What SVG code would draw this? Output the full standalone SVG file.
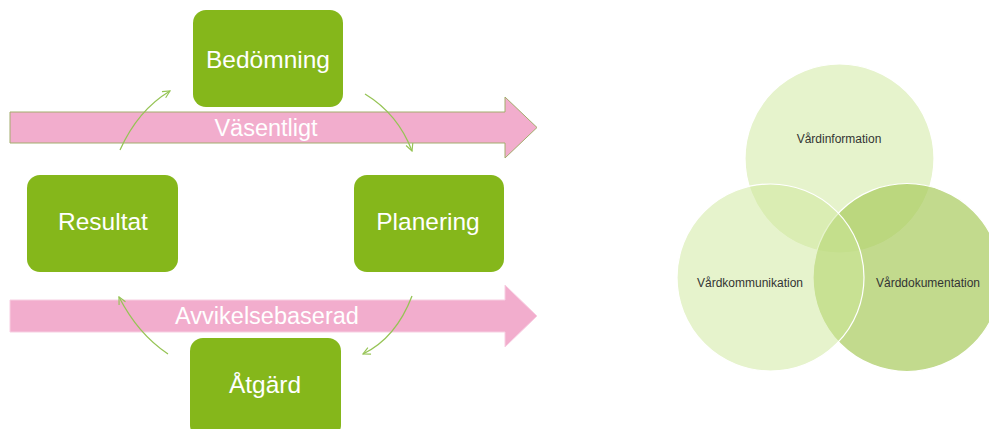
<svg xmlns="http://www.w3.org/2000/svg" width="989" height="429" viewBox="0 0 989 429">
<defs>
<style>
.box{fill:#85b71b}
.bt{font-family:"Liberation Sans",Arial,sans-serif;font-size:24.5px;fill:#fff;text-anchor:middle}
.at{font-family:"Liberation Sans",Arial,sans-serif;font-size:23.5px;fill:#fff;text-anchor:middle}
.ct{font-family:"Liberation Sans",Arial,sans-serif;font-size:12px;fill:#333;text-anchor:middle}
.con{fill:none;stroke:#96c455;stroke-width:1.3;marker-end:url(#ah)}
.vc{stroke:#fff;stroke-width:1.2}
</style>
<marker id="ah" viewBox="0 0 10 10" refX="9" refY="5" markerWidth="9" markerHeight="9" markerUnits="userSpaceOnUse" orient="auto">
<polyline points="1,1 9,5 1,9" fill="none" stroke="#96c455" stroke-width="1.3"/>
</marker>
</defs>
<rect width="989" height="429" fill="#fff"/>
<g id="arrow-vasentligt">
<polygon points="10,112 505,112 505,97 537,127.5 505,158 505,143 10,143" fill="#f2adcd" stroke="#a2ad6c" stroke-width="1"/>
<text class="at" x="266" y="136">Väsentligt</text>
</g>
<g id="arrow-avvikelsebaserad">
<polygon points="10,300 505,300 505,285 537,316 505,347 505,332 10,332" fill="#f2adcd" stroke="#f7cfe2" stroke-width="1"/>
<text class="at" x="267" y="324">Avvikelsebaserad</text>
</g>
<g id="bedomning">
<rect class="box" x="193" y="10" width="150" height="97" rx="13"/>
<text class="bt" x="268" y="68">Bedömning</text>
</g>
<g id="resultat">
<rect class="box" x="27" y="175" width="151" height="97" rx="13"/>
<text class="bt" x="103" y="230">Resultat</text>
</g>
<g id="planering">
<rect class="box" x="354" y="175" width="150" height="97" rx="13"/>
<text class="bt" x="428" y="230">Planering</text>
</g>
<g id="atgard">
<rect class="box" x="190" y="338" width="151" height="100" rx="13"/>
<text class="bt" x="265" y="393">Åtgärd</text>
</g>
<g id="connectors">
<path class="con" d="M120,150 Q138,110 170,91"/>
<path class="con" d="M365,94 Q398,114 412,151"/>
<path class="con" d="M412,296 Q396,338 363,354"/>
<path class="con" d="M168,354 Q138,334 119,297"/>
</g>
<g id="venn">
<circle class="vc" cx="839.5" cy="158.5" r="94.5" fill="#cde89a" fill-opacity="0.5"/>
<circle class="vc" cx="907" cy="277.5" r="94" fill="#a8cb5d" fill-opacity="0.7"/>
<circle class="vc" cx="770.5" cy="277.5" r="93.5" fill="#cde89a" fill-opacity="0.5"/>
<text class="ct" x="839" y="143">Vårdinformation</text>
<text class="ct" x="750" y="287">Vårdkommunikation</text>
<text class="ct" x="928" y="287">Vårddokumentation</text>
</g>
</svg>
